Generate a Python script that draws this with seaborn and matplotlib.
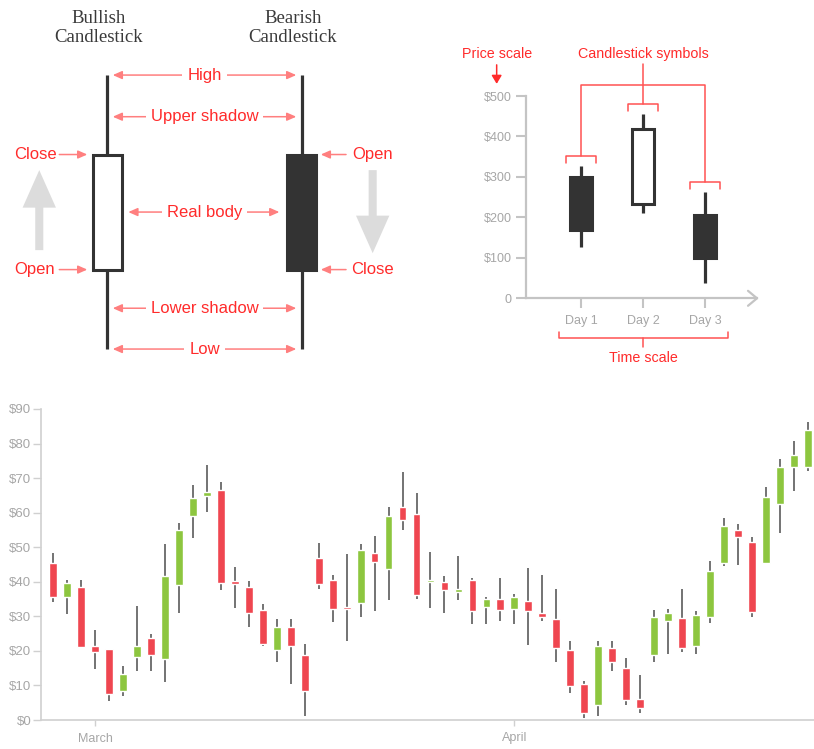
import matplotlib.pyplot as plt
import seaborn as sns
import pandas as pd

# anatomy sketch, schematic prices (0 = low, 100 = high)
anatomy_titles = ["Bullish\nCandlestick", "Bearish\nCandlestick"]
anatomy_open = [29, 71]
anatomy_close = [71, 29]
anatomy_high = [100, 100]
anatomy_low = [0, 0]

# small three-day example
example_days = ["Day 1", "Day 2", "Day 3"]
example_open = [300, 233, 205]
example_close = [170, 418, 100]
example_high = [327, 455, 262]
example_low = [128, 212, 39]
example_ticks = [0, 100, 200, 300, 400, 500]
example_tick_labels = ["0", "$100", "$200", "$300", "$400", "$500"]

# daily candles
opens = [45.5, 35.7, 38.4, 21.4, 20.5, 8.4, 18.2, 23.7, 17.6, 39.2,
         59.0, 64.8, 66.7, 40.3, 38.4, 31.9, 20.4, 26.9, 18.8, 47.0,
         40.5, 32.7, 33.8, 48.2, 43.7, 61.6, 59.7, 40.0, 40.0, 37.1,
         40.4, 32.7, 35.1, 32.2, 34.3, 31.1, 29.1, 20.4, 10.3, 4.4,
         20.7, 15.0, 6.2, 18.7, 28.7, 29.6, 21.4, 29.8, 45.5, 55.1,
         51.5, 45.5, 62.6, 73.3, 73.3]
highs = [48.4, 40.5, 40.5, 26.0, 20.5, 15.7, 33.0, 24.8, 50.8, 56.9,
         67.9, 73.7, 68.9, 44.2, 40.3, 33.7, 29.1, 29.1, 22.0, 51.3,
         41.9, 48.0, 50.9, 53.2, 61.6, 71.8, 65.6, 48.5, 41.6, 47.6,
         41.2, 35.5, 41.2, 36.4, 43.9, 42.1, 37.8, 23.0, 11.3, 23.0,
         23.0, 17.8, 12.9, 31.7, 32.1, 37.8, 31.5, 46.0, 58.6, 56.7,
         52.9, 67.4, 75.6, 80.7, 86.1]
lows = [34.2, 30.7, 21.0, 14.9, 5.5, 6.9, 14.2, 14.2, 10.9, 30.9,
        52.6, 60.1, 37.6, 32.3, 27.0, 21.5, 16.9, 10.3, 1.3, 37.8,
        28.3, 23.0, 29.7, 31.5, 34.7, 55.0, 35.0, 32.5, 31.1, 34.7,
        27.9, 27.9, 28.7, 27.9, 21.7, 28.7, 16.7, 7.9, 0.5, 1.1,
        14.2, 4.4, 2.0, 16.7, 19.1, 19.6, 19.1, 28.0, 44.6, 44.9,
        29.8, 45.5, 54.0, 66.2, 72.2]
closes = [35.7, 39.7, 21.0, 19.6, 7.4, 13.3, 21.4, 18.8, 41.8, 55.1,
          64.1, 66.0, 39.7, 39.3, 31.1, 22.0, 27.0, 21.4, 8.5, 39.5,
          32.0, 32.2, 49.2, 45.7, 59.0, 58.0, 36.3, 40.4, 37.5, 37.8,
          31.5, 35.0, 31.9, 35.6, 31.4, 29.7, 20.7, 9.8, 2.1, 21.3,
          16.7, 5.7, 3.5, 29.7, 31.1, 20.7, 30.4, 43.1, 56.1, 53.0,
          31.2, 64.6, 73.2, 76.7, 84.0]
month_ticks = [3, 33]
month_labels = ["March", "April"]
price_ticks = [0, 10, 20, 30, 40, 50, 60, 70, 80, 90]

RED = "#ef4650"
GREEN = "#8dc63f"
WICK = "#4d4d4d"
DARK = "#333333"
NOTE = "#ff2b2b"
NOTE_LINE = "#ff5252"
NOTE_ARROW = "#ff7f7f"
AXIS = "#c4c4c4"
TICKTXT = "#a6a6a6"

sns.set_theme(style="white")
plt.rcParams["font.family"] = ["Liberation Sans", "DejaVu Sans"]

W, H = 814, 749
fig = plt.figure(figsize=(W / 100, H / 100), dpi=100)


def px_axes(x0, y0, x1, y1):
    return fig.add_axes([x0 / W, 1 - y1 / H, (x1 - x0) / W, (y1 - y0) / H])


# ---------------- anatomy sketch ----------------
ax = px_axes(0, 0, 410, 360)
ax.set_xlim(-0.552, 1.557)
ax.set_ylim(-4.0, 127.4)
ax.axis("off")

for i in range(2):
    ax.vlines(i, anatomy_low[i], anatomy_high[i], color=DARK, lw=2.3, zorder=1)
    bull = anatomy_close[i] > anatomy_open[i]
    ax.bar(i, anatomy_close[i] - anatomy_open[i], bottom=anatomy_open[i],
           width=0.15, color="white" if bull else DARK, edgecolor=DARK,
           lw=2.2, zorder=2)
    ax.text(i - 0.045, 117.2, anatomy_titles[i], ha="center", va="center",
            family="Liberation Serif", fontsize=13.5, color="#3a3a3a",
            linespacing=1.2)

body_top = max(anatomy_open)
body_bot = min(anatomy_open)
rows = [("High", anatomy_high[0], 0.028, 0.972),
        ("Upper shadow", 84.8, 0.028, 0.972),
        ("Real body", (body_top + body_bot) / 2, 0.108, 0.885),
        ("Lower shadow", 14.9, 0.028, 0.972),
        ("Low", anatomy_low[0], 0.028, 0.972)]
for label, y, xa, xb in rows:
    ax.annotate("", xy=(xb, y), xytext=(xa, y),
                arrowprops=dict(arrowstyle="<|-|>,head_length=0.5,head_width=0.22",
                                color=NOTE_ARROW, lw=1.1, shrinkA=0, shrinkB=0,
                                mutation_scale=11), zorder=3)
    ax.text(0.5, y, label, ha="center", va="center", fontsize=12, color=NOTE,
            zorder=4, bbox=dict(boxstyle="square,pad=0.3", fc="white", ec="none"))

side = [("Close", -0.372, anatomy_close[0], -0.247, -0.103),
        ("Open", -0.372, anatomy_open[0], -0.247, -0.103),
        ("Open", 1.365, anatomy_open[1], 1.228, 1.098),
        ("Close", 1.365, anatomy_close[1], 1.228, 1.098)]
for label, tx, y, xa, xb in side:
    ax.text(tx, y, label, ha="center", va="center", fontsize=12, color=NOTE)
    ax.annotate("", xy=(xb, y), xytext=(xa, y),
                arrowprops=dict(arrowstyle="-|>,head_length=0.5,head_width=0.22",
                                color=NOTE_ARROW, lw=1.1, shrinkA=0, shrinkB=0,
                                mutation_scale=11))

big = dict(arrowstyle="simple,head_length=2.7,head_width=2.4,tail_width=0.58",
           color="#dcdcdc", shrinkA=0, shrinkB=0, mutation_scale=10, lw=0)
ax.annotate("", xy=(-0.35, 65.3), xytext=(-0.35, 36.1), arrowprops=big)
ax.annotate("", xy=(1.365, 35.0), xytext=(1.365, 65.3), arrowprops=big)

# ---------------- three-day example ----------------
sc = px_axes(526, 96, 757, 298.3)
ex = pd.DataFrame({"day": [1, 2, 3], "open": example_open, "close": example_close,
                   "high": example_high, "low": example_low})
sc.set_xlim(0.113, 3.839)
sc.set_ylim(0, 500)
sc.set_facecolor("none")
sc.vlines(ex["day"], ex["low"], ex["high"], color=DARK, lw=2.3, zorder=1)
ex_face = [DARK if o > c else "white" for o, c in zip(ex["open"], ex["close"])]
sc.bar(ex["day"], ex["close"] - ex["open"], bottom=ex["open"], width=0.345,
       color=ex_face, edgecolor=DARK, lw=2.2, zorder=2)
sns.despine(ax=sc)
for s in ["left", "bottom"]:
    sc.spines[s].set_color(AXIS)
    sc.spines[s].set_linewidth(1.6)
sc.set_xticks(ex["day"], example_days)
sc.set_yticks(example_ticks, example_tick_labels)
sc.tick_params(axis="y", length=7, width=1.5, color=AXIS, labelcolor=TICKTXT,
               labelsize=9, pad=3.5, left=True)
sc.tick_params(axis="x", length=7, width=1.5, color=AXIS, labelcolor=TICKTXT,
               labelsize=9, pad=5, bottom=True)
sc.plot([3.839 - 0.145, 3.839, 3.839 - 0.145], [18.5, 0, -18.5],
        color=AXIS, lw=1.6, clip_on=False)

kw = dict(color=NOTE_LINE, lw=1.1, clip_on=False)
for d, h in zip(ex["day"], ex["high"]):
    sc.plot([d - 0.24, d - 0.24, d + 0.24, d + 0.24],
            [h + 8, h + 25, h + 25, h + 8], **kw)
sc.plot([1, 1, 3, 3], [ex["high"][0] + 25, 528, 528, ex["high"][2] + 25], **kw)
sc.plot([2, 2], [579, ex["high"][1] + 25], **kw)
sc.text(2, 604, "Candlestick symbols", ha="center", va="center",
        fontsize=10.3, color=NOTE)
sc.text(-0.36, 604, "Price scale", ha="center", va="center",
        fontsize=10.3, color=NOTE, clip_on=False)
sc.annotate("", xy=(-0.36, 530), xytext=(-0.36, 577),
            arrowprops=dict(arrowstyle="-|>,head_length=0.5,head_width=0.3",
                            color=NOTE, lw=1.1, shrinkA=0, shrinkB=0,
                            mutation_scale=10), annotation_clip=False)
sc.plot([0.645, 0.645, 3.37, 3.37], [-82.5, -99, -99, -82.5], **kw)
sc.plot([2, 2], [-99, -119.6], **kw)
sc.text(2, -148, "Time scale", ha="center", va="center", fontsize=10.3, color=NOTE)

# ---------------- daily candlestick chart ----------------
bx = px_axes(41, 409, 814, 720)
df = pd.DataFrame({"open": opens, "high": highs, "low": lows, "close": closes})
df["day"] = range(len(df))
df["up"] = df["close"] >= df["open"]
bx.vlines(df["day"], df["low"], df["high"], color=WICK, lw=1.1, zorder=1)
bx.bar(df["day"], df["close"] - df["open"], bottom=df["open"], width=0.56,
       color=df["up"].map({True: GREEN, False: RED}), zorder=2)
bx.set_xlim(-0.858, 54.43)
bx.set_ylim(0, 90)
bx.set_facecolor("none")
sns.despine(ax=bx)
for s in ["left", "bottom"]:
    bx.spines[s].set_color("#d0d0d0")
    bx.spines[s].set_linewidth(1.2)
bx.set_yticks(price_ticks, [f"${v}" for v in price_ticks])
bx.set_xticks(month_ticks, month_labels)
bx.tick_params(axis="y", length=6, width=1, color="#d0d0d0", labelcolor=TICKTXT,
               labelsize=9.5, pad=1, left=True)
bx.tick_params(axis="x", length=4, width=1, color="#d0d0d0", labelcolor=TICKTXT,
               labelsize=9, pad=5, bottom=True)

fig.savefig("out.png", dpi=100)
